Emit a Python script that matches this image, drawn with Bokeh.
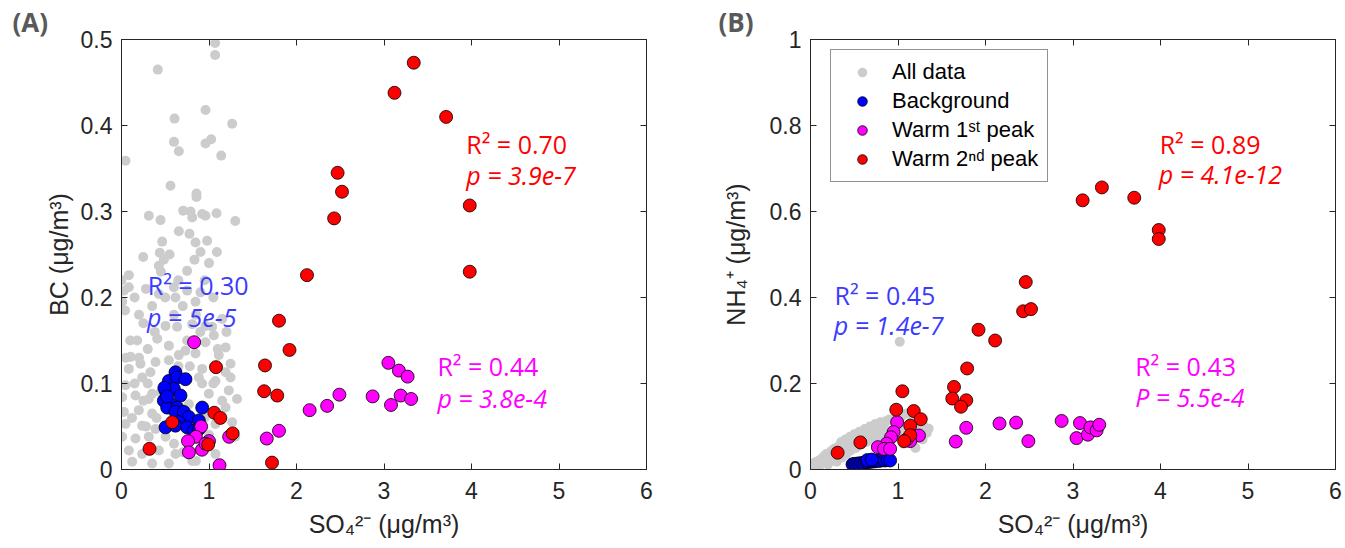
from bokeh.plotting import figure
from bokeh.models import Range1d, LinearAxis, FixedTicker, Label, Legend, LegendItem
from bokeh.layouts import row
from bokeh.embed import file_html
from bokeh.resources import INLINE

# ---------------- data ----------------
x_ticks = [0, 1, 2, 3, 4, 5, 6]
a_y_ticks = [0, 0.1, 0.2, 0.3, 0.4, 0.5]
a_y_tick_labels = ["0", "0.1", "0.2", "0.3", "0.4", "0.5"]
b_y_ticks = [0, 0.2, 0.4, 0.6, 0.8, 1]
b_y_tick_labels = ["0", "0.2", "0.4", "0.6", "0.8", "1"]

# Panel A: SO4 vs BC
a_all_x = [1.07, 1.07, 0.415, 0.96, 0.606, 1.265, 0.60, 0.96, 1.025, 0.655, 1.14,
           0.046, 0.56, 0.857, 0.857, 0.312, 0.446, 0.705, 0.789, 0.808, 0.922, 0.96, 1.086, 1.30,
           0.655, 0.777, 0.465, 0.846, 0.979, 0.438, 0.903, 1.09, 0.248, 0.484, 0.834, 0.427, 0.75,
           0.084, 0.027, 0.084, 0.008, 0.427, 0.598, 0.75, 0.903, 0.617, 0.846, 1.15, 0.503, 0.636,
           0.808, 0.96, 1.036, 0.179, 0.408, 0.541, 0.96, 1.055, 1.19, 0.73, 0.655, 0.846, 1.112,
           0.103, 0.217, 0.389, 0.541, 1.246, 0.084, 0.331, 0.922, 1.19,
           0.236, 0.046, 0.008, 0.16, 0.312, 0.35, 0.027, 0.198, 0.35, 0.046, 0.236, 0.389, 0.008,
           0.16, 0.312, 0.503, 0.084, 0.236, 0.427, 0.617, 0.122, 0.35, 0.541, 0.808, 0.884, 0.922,
           1.074, 1.246, 1.226, 1.32, 1.19, 1.265, 1.30, 0.998, 0.77, 1.074, 0.884, 1.074,
           0.95, 1.0, 1.15, 1.05, 0.70, 0.85, 0.60, 0.40, 0.45, 0.25, 0.30, 0.20, 0.15, 0.05, 0.10,
           0.00, 0.04, 0.30, 0.25, 0.35, 0.45, 0.55, 0.65, 0.70, 0.95, 1.05, 1.00, 0.60, 0.90, 0.75,
           0.50, 0.15, 0.20, 0.28, 0.38, 0.12, 0.28, 0.55, 0.65, 0.78, 1.10, 1.20, 0.85]
a_all_y = [0.496, 0.482, 0.465, 0.418, 0.408, 0.402, 0.381, 0.379, 0.384, 0.370, 0.365,
           0.359, 0.330, 0.321, 0.317, 0.295, 0.290, 0.301, 0.300, 0.293, 0.297, 0.295, 0.298, 0.289,
           0.277, 0.274, 0.265, 0.264, 0.266, 0.252, 0.253, 0.253, 0.247, 0.244, 0.244, 0.237, 0.231,
           0.226, 0.208, 0.212, 0.195, 0.204, 0.212, 0.208, 0.206, 0.200, 0.195, 0.175, 0.167, 0.166,
           0.169, 0.167, 0.166, 0.150, 0.152, 0.144, 0.148, 0.156, 0.142, 0.138, 0.133, 0.135, 0.133,
           0.131, 0.123, 0.125, 0.127, 0.123, 0.117, 0.113, 0.117, 0.113,
           0.107, 0.098, 0.084, 0.086, 0.082, 0.088, 0.067, 0.069, 0.065, 0.053, 0.051, 0.047, 0.038,
           0.036, 0.038, 0.038, 0.022, 0.018, 0.022, 0.018, 0.009, 0.007, 0.007, 0.010, 0.107, 0.100,
           0.103, 0.107, 0.092, 0.082, 0.072, 0.055, 0.038, 0.088, 0.076, 0.053, 0.022, 0.018,
           0.06, 0.04, 0.08, 0.10, 0.02, 0.01, 0.03, 0.06, 0.09, 0.08, 0.10, 0.13, 0.10, 0.13, 0.15,
           0.22, 0.185, 0.14, 0.17, 0.19, 0.23, 0.25, 0.22, 0.19, 0.22, 0.20, 0.24, 0.18, 0.16, 0.15,
           0.20, 0.20, 0.18, 0.21, 0.16, 0.06, 0.05, 0.10, 0.12, 0.12, 0.14, 0.16, 0.18]

a_bg_x = [0.617, 0.541, 0.636, 0.731, 0.503, 0.598, 0.674, 0.484, 0.56, 0.522, 0.636, 0.617,
          0.712, 0.922, 0.77, 0.884, 0.655, 0.503, 0.617, 0.75, 0.827, 0.884, 0.49, 0.52]
a_bg_y = [0.113, 0.103, 0.107, 0.105, 0.092, 0.094, 0.086, 0.080, 0.076, 0.072, 0.072, 0.067,
          0.067, 0.072, 0.061, 0.057, 0.055, 0.049, 0.051, 0.049, 0.045, 0.047, 0.095, 0.085]

a_w1_x = [0.83, 3.05, 3.17, 3.27, 2.49, 2.87, 3.19, 3.31, 3.08, 2.35, 2.15, 1.80, 1.66, 0.91,
          1.23, 0.85, 0.76, 1.00, 0.92, 0.77, 1.12, 0.96]
a_w1_y = [0.148, 0.124, 0.115, 0.108, 0.087, 0.085, 0.086, 0.082, 0.075, 0.074, 0.069, 0.045,
          0.036, 0.050, 0.038, 0.038, 0.033, 0.033, 0.023, 0.020, 0.005, 0.030]

a_w2_x = [3.34, 3.12, 3.71, 2.47, 2.52, 2.43, 2.12, 3.98, 3.98, 1.80, 1.92, 1.64, 1.08, 1.63,
          1.78, 1.06, 1.13, 1.27, 0.58, 0.32, 0.99, 1.72]
a_w2_y = [0.473, 0.438, 0.410, 0.345, 0.323, 0.292, 0.226, 0.307, 0.230, 0.173, 0.139, 0.121,
          0.119, 0.091, 0.086, 0.066, 0.060, 0.042, 0.055, 0.024, 0.029, 0.008]

# Panel B: SO4 vs NH4
b_all_x = [0.00, 0.02, 0.04, 0.05, 0.07, 0.09, 0.10, 0.12, 0.13, 0.15, 0.17, 0.18, 0.20, 0.21,
           0.23, 0.25, 0.27, 0.28, 0.30, 0.32, 0.33, 0.35, 0.36, 0.38, 0.40, 0.41, 0.43, 0.45,
           0.46, 0.48, 0.50, 0.52, 0.54, 0.56, 0.58, 0.60, 0.62, 0.64, 0.66, 0.68, 0.70, 0.72,
           0.74, 0.76, 0.78, 0.80, 0.82, 0.84, 0.86, 0.88, 0.90, 0.92, 0.95, 0.98, 1.00, 1.02,
           1.05, 1.06, 1.08, 1.10, 1.12, 1.15, 1.18, 1.20, 1.22, 1.25, 1.28, 1.30, 1.33, 1.35, 1.02]
b_all_y = [0.004, 0.010, 0.006, 0.016, 0.012, 0.020, 0.008, 0.024, 0.014, 0.030, 0.020, 0.036,
           0.012, 0.028, 0.042, 0.022, 0.048, 0.034, 0.018, 0.054, 0.040, 0.064, 0.028, 0.050,
           0.070, 0.036, 0.058, 0.076, 0.044, 0.064, 0.082, 0.050, 0.070, 0.088, 0.058, 0.076,
           0.094, 0.064, 0.084, 0.100, 0.070, 0.092, 0.106, 0.076, 0.098, 0.110, 0.082, 0.104,
           0.112, 0.088, 0.116, 0.070, 0.095, 0.120, 0.080, 0.105, 0.125, 0.060, 0.090, 0.130,
           0.070, 0.110, 0.125, 0.050, 0.090, 0.115, 0.070, 0.100, 0.085, 0.095, 0.297]

b_bg_x = [0.48, 0.50, 0.52, 0.54, 0.56, 0.58, 0.60, 0.62, 0.64, 0.66, 0.68, 0.70, 0.72, 0.74,
          0.76, 0.79, 0.82, 0.85, 0.88, 0.91, 0.65, 0.70]
b_bg_y = [0.012, 0.013, 0.012, 0.014, 0.013, 0.015, 0.014, 0.016, 0.018, 0.017, 0.019, 0.018,
          0.020, 0.019, 0.021, 0.020, 0.022, 0.021, 0.022, 0.021, 0.022, 0.023]

b_w1_x = [0.99, 0.95, 0.92, 0.87, 0.77, 0.84, 0.91, 1.24, 1.14, 1.10, 1.66, 1.78, 2.16, 2.35,
          2.49, 2.87, 3.04, 3.08, 3.17, 3.20, 3.27, 3.30]
b_w1_y = [0.110, 0.087, 0.075, 0.060, 0.052, 0.048, 0.048, 0.079, 0.066, 0.070, 0.065, 0.097,
          0.107, 0.109, 0.066, 0.113, 0.073, 0.108, 0.081, 0.098, 0.091, 0.104]

b_w2_x = [3.11, 3.33, 3.70, 3.98, 3.98, 2.46, 2.43, 2.52, 1.92, 2.11, 1.79, 1.64, 1.62, 1.78,
          1.72, 1.05, 0.98, 1.18, 1.26, 1.14, 1.14, 1.07, 0.57, 0.31]
b_w2_y = [0.626, 0.656, 0.632, 0.557, 0.536, 0.436, 0.368, 0.373, 0.325, 0.300, 0.235, 0.192,
          0.165, 0.161, 0.146, 0.182, 0.139, 0.136, 0.117, 0.102, 0.080, 0.066, 0.063, 0.039]

legend_labels = ["All data", "Background", "Warm 1\u02e2\u1d57 peak", "Warm 2\u207f\u1d48 peak"]

# annotation texts (x, y in data units, colour)
a_notes = [("R\u00b2 = 0.70", 3.94, 0.379, "#ff0000", "normal"),
           ("p = 3.9e-7", 3.94, 0.343, "#ff0000", "italic"),
           ("R\u00b2 = 0.44", 3.61, 0.120, "#ff00ff", "normal"),
           ("p = 3.8e-4", 3.61, 0.0835, "#ff00ff", "italic"),
           ("R\u00b2 = 0.30", 0.30, 0.214, "#3b3bff", "normal"),
           ("p = 5e-5", 0.29, 0.177, "#3b3bff", "italic")]
b_notes = [("R\u00b2 = 0.89", 3.99, 0.758, "#ff0000", "normal"),
           ("p = 4.1e-12", 3.98, 0.687, "#ff0000", "italic"),
           ("R\u00b2 = 0.43", 3.71, 0.240, "#ff00ff", "normal"),
           ("P = 5.5e-4", 3.71, 0.169, "#ff00ff", "italic"),
           ("R\u00b2 = 0.45", 0.274, 0.405, "#3b3bff", "normal"),
           ("p = 1.4e-7", 0.267, 0.335, "#3b3bff", "italic")]

AX = "#262626"
GRAY = "#cccccc"


def style_axis(ax, show_labels=True):
    ax.major_tick_in = 6
    ax.major_tick_out = 0
    ax.minor_tick_line_color = None
    ax.axis_line_color = AX
    ax.major_tick_line_color = AX
    ax.major_label_text_font = "Liberation Sans"
    if show_labels:
        ax.major_label_text_color = AX
        ax.major_label_text_font_size = "23px"
    else:
        ax.major_label_text_color = None
        ax.major_label_text_font_size = "1px"
        ax.major_label_standoff = 0


def make_fig(ymax, yticks, ylabels, ylabel, bl, br, ystand, tag, tag_offset):
    p = figure(frame_width=525, frame_height=430, x_range=Range1d(0, 6), y_range=Range1d(0, ymax),
               output_backend="svg", toolbar_location=None,
               min_border_left=bl, min_border_right=br, min_border_top=39, min_border_bottom=75,
               x_axis_label="SO\u2084\u00b2\u207b (\u03bcg/m\u00b3)", y_axis_label=ylabel,
               title=tag)
    p.grid.visible = False
    p.outline_line_color = AX
    p.background_fill_color = "white"
    p.border_fill_color = "white"

    p.title.align = "left"
    p.title.offset = tag_offset
    p.title.standoff = 0
    p.title.text_font = "Open Sans"
    p.title.text_font_style = "bold"
    p.title.text_font_size = "26px"
    p.title.text_color = "#595959"

    xa = p.xaxis[0]
    ya = p.yaxis[0]
    xa.ticker = FixedTicker(ticks=x_ticks)
    ya.ticker = FixedTicker(ticks=yticks)
    ya.major_label_overrides = {t: l for t, l in zip(yticks, ylabels)}
    for ax in (xa, ya):
        style_axis(ax)
        ax.axis_label_text_font = "Liberation Sans"
        ax.axis_label_text_font_size = "25px"
        ax.axis_label_text_font_style = "normal"
        ax.axis_label_text_color = AX
    xa.major_label_standoff = 12
    xa.axis_label_standoff = 8
    ya.major_label_standoff = 9
    ya.axis_label_standoff = ystand

    top = LinearAxis(ticker=FixedTicker(ticks=x_ticks))
    style_axis(top, False)
    p.add_layout(top, "above")
    right = LinearAxis(ticker=FixedTicker(ticks=yticks))
    style_axis(right, False)
    p.add_layout(right, "right")
    return p


pA = make_fig(0.5, a_y_ticks, a_y_tick_labels, "BC (\u03bcg/m\u00b3)", 121, 44, 5, "(A)", -109)
pB = make_fig(1.0, b_y_ticks, b_y_tick_labels, "NH\u2084\u207a (\u03bcg/m\u00b3)", 120, 8, 17, "(B)", -92)

rendA = [pA.scatter(a_all_x, a_all_y, size=10, fill_color=GRAY, line_color=None),
         pA.scatter(a_bg_x, a_bg_y, size=13, fill_color="#0000ff", line_color="black", line_width=0.8),
         pA.scatter(a_w1_x, a_w1_y, size=13, fill_color="#ff00ff", line_color="black", line_width=0.8),
         pA.scatter(a_w2_x, a_w2_y, size=13, fill_color="#ff0000", line_color="black", line_width=0.8)]
rendB = [pB.scatter(b_all_x, b_all_y, size=10, fill_color=GRAY, line_color=None),
         pB.scatter(b_bg_x, b_bg_y, size=13, fill_color="#0000ff", line_color="black", line_width=0.8),
         pB.scatter(b_w1_x, b_w1_y, size=13, fill_color="#ff00ff", line_color="black", line_width=0.8),
         pB.scatter(b_w2_x, b_w2_y, size=13, fill_color="#ff0000", line_color="black", line_width=0.8)]

for p, notes in ((pA, a_notes), (pB, b_notes)):
    for txt, x, y, col, style in notes:
        p.add_layout(Label(x=x, y=y, text=txt, text_font="Open Sans", text_font_size="25px",
                           text_color=col, text_font_style=style, text_baseline="alphabetic"))

legend = Legend(items=[LegendItem(label=l, renderers=[r]) for l, r in zip(legend_labels, rendB)],
                location=(20, 287), border_line_color=AX, border_line_width=1,
                background_fill_color="white", background_fill_alpha=1.0,
                label_text_font="Liberation Sans", label_text_font_size="22px", label_text_color="black",
                padding=9, spacing=3, label_height=24, glyph_height=24, glyph_width=44,
                label_standoff=8, margin=0)
pB.add_layout(legend, "center")

layout = row(pA, pB)
open("out.html", "w").write(file_html(layout, INLINE))
